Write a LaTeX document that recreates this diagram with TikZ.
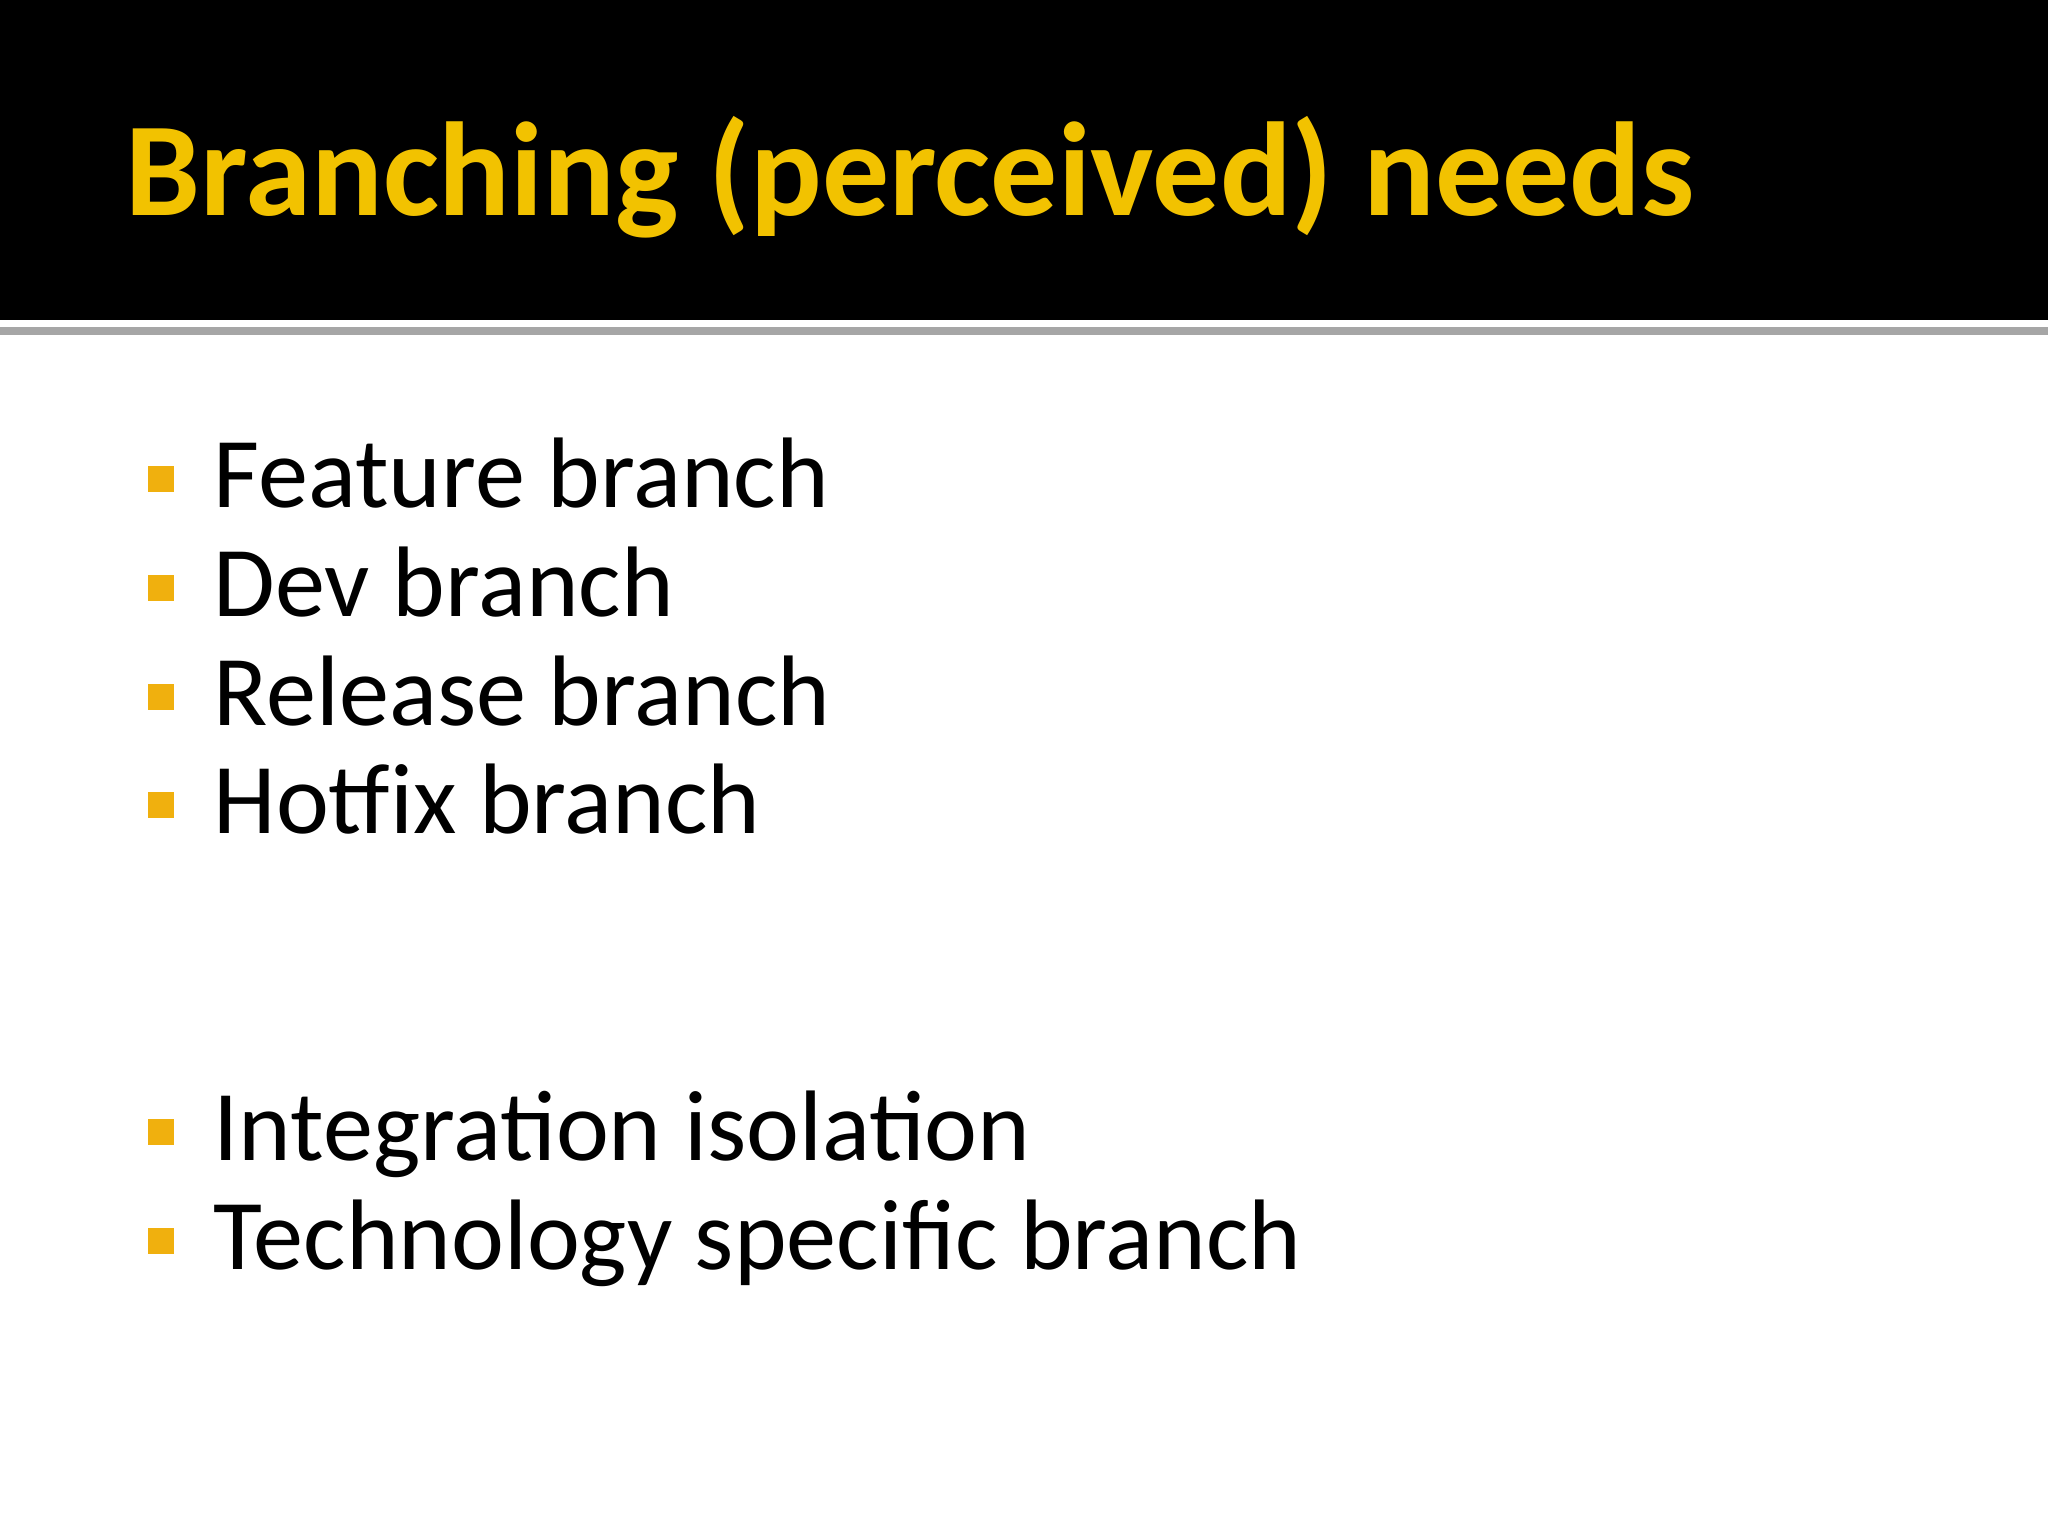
\documentclass[tikz,border=0pt]{standalone}
\usepackage{fontspec}
\setmainfont{Carlito}
\definecolor{ttl}{HTML}{F2C200}
\definecolor{bul}{HTML}{F0B00E}
\begin{document}
\begin{tikzpicture}[x=0.01cm,y=-0.01cm,
  item/.style={anchor=base west,inner sep=0pt,font=\fontsize{28.5}{34}\selectfont},
  sq/.style={fill=bul,minimum size=0.26cm,inner sep=0pt}]
\useasboundingbox (0,0) rectangle (2048,1536);
\fill[white] (0,0) rectangle (2048,1536);
\fill[black] (0,0) rectangle (2048,320);
\draw[gray!70,line width=2pt] (0,331) -- (2048,331);
\node[anchor=base west,inner sep=0pt,text=ttl,font=\fontsize{38}{44}\bfseries\selectfont] (title) at (125,215) {Branching (perceived) needs};
\foreach \n/\y/\t in {a/507/Feature branch,b/616/Dev branch,c/725/Release branch,d/833/Hotfix branch,e/1160/Integration isolation,f/1269/Technology specific branch}{
  \node[item] (t\n) at (213,\y) {\t};
  \node[sq] (s\n) at (161,\y-28) {};
}
\end{tikzpicture}
\end{document}
